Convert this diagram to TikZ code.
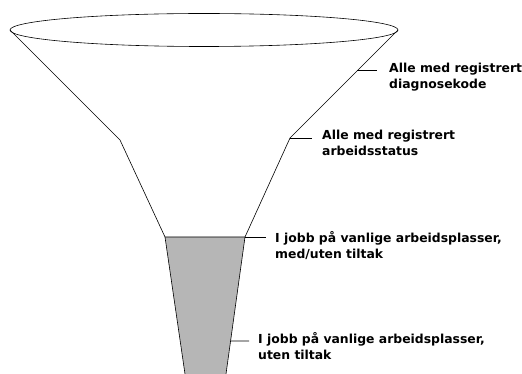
\documentclass[tikz,border=0pt]{standalone}
\usepackage{fontspec}
\setmainfont{DejaVu Sans}
\newfontfamily\lblfont{DejaVu Sans Bold}
\usetikzlibrary{calc}
\begin{document}
\begin{tikzpicture}[x=1pt,y=-1pt,
  funnel/.style={draw=black,line width=0.6pt,line join=miter},
  tick/.style={draw=black,line width=0.6pt},
  lbl/.style={anchor=west,align=left,inner sep=0pt,font=\lblfont\fontsize{12.4}{16.5}\selectfont}]
\useasboundingbox (0,0) rectangle (522,374);
% funnel corners
\coordinate (TL) at (10,30);
\coordinate (TR) at (398,30);
\coordinate (ML) at (120,140);
\coordinate (MR) at (290,138);
\coordinate (GL) at (165,237);
\coordinate (GR) at (245,237);
\coordinate (BL) at (185,374);
\coordinate (BR) at (226,374);
% gray part
\fill[fill=gray!50!white!95!black] (GL) -- (GR) -- (BR) -- (BL) -- cycle;
\draw[funnel] (GL) -- (BL);
\draw[funnel] (GR) -- (BR);
% cone
\draw[funnel] (TL) -- (ML) -- (GL) -- (GR) -- (MR) -- (TR);
\draw[funnel] (204,30) ellipse [x radius=194, y radius=16.5];
% tick start points on funnel
\coordinate (t1) at (357,70);
\coordinate (t2) at (MR);
\coordinate (t3) at (GR);
\coordinate (t4) at ($(GR)!0.759!(BR)$);
% labels
\node[lbl] (l1) at (389,77) {Alle med registrert\\diagnosekode};
\node[lbl] (l2) at (322,143) {Alle med registrert\\arbeidsstatus};
\node[lbl] (l3) at (275,245.5) {I jobb på vanlige arbeidsplasser,\\med/uten tiltak};
\node[lbl] (l4) at (258,346) {I jobb på vanlige arbeidsplasser,\\uten tiltak};
\coordinate (e1) at (377,70);
\coordinate (e2) at (312,138);
\coordinate (e3) at (266,237);
\coordinate (e4) at (249,341);
\draw[tick] (t1) -- (e1);
\draw[tick] (t2) -- (e2);
\draw[tick] (t3) -- (e3);
\draw[tick] (t4) -- (e4);
\end{tikzpicture}
\end{document}
